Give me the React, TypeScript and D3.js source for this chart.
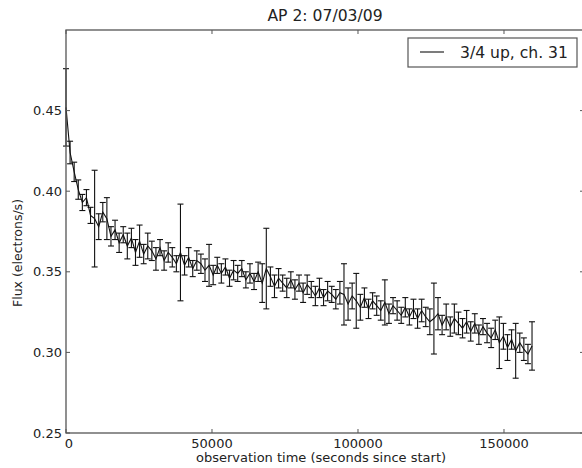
import React from "react";
import * as d3 from "d3";

const times = [
  0, 1400, 2800, 4200, 5600, 7000, 8400, 9800, 11200, 12600,
  14000, 15400, 16800, 18200, 19600, 21000, 22400, 23800, 25200, 26600,
  28000, 29400, 30800, 32200, 33600, 35000, 36400, 37800, 39200, 40600,
  42000, 43400, 44800, 46200, 47600, 49000, 50400, 51800, 53200, 54600,
  56000, 57400, 58800, 60200, 61600, 63000, 64400, 65800, 67200, 68600,
  70000, 71400, 72800, 74200, 75600, 77000, 78400, 79800, 81200, 82600,
  84000, 85400, 86800, 88200, 89600, 91000, 92400, 93800, 95200, 96600,
  98000, 99400, 100800, 102200, 103600, 105000, 106400, 107800, 109200, 110600,
  112000, 113400, 114800, 116200, 117600, 119000, 120400, 121800, 123200, 124600,
  126000, 127400, 128800, 130200, 131600, 133000, 134400, 135800, 137200, 138600,
  140000, 141400, 142800, 144200, 145600, 147000, 148400, 149800, 151200, 152600,
  154000, 155400, 156800, 158200, 159600,
];

const flux = [
  0.452, 0.424, 0.412, 0.401, 0.393, 0.396, 0.385, 0.383, 0.378, 0.387,
  0.383, 0.372, 0.376, 0.368, 0.373, 0.366, 0.371, 0.362, 0.369, 0.361,
  0.366, 0.363, 0.358, 0.365, 0.357, 0.362, 0.359, 0.355, 0.362, 0.354,
  0.359, 0.352, 0.357, 0.355, 0.351, 0.354, 0.348, 0.354, 0.349, 0.353,
  0.346, 0.351, 0.349, 0.352, 0.345, 0.349, 0.344, 0.35, 0.343, 0.352,
  0.347, 0.341, 0.346, 0.343, 0.34, 0.345, 0.339, 0.343, 0.337, 0.342,
  0.339, 0.335, 0.34, 0.334, 0.338, 0.336, 0.333, 0.337, 0.336, 0.33,
  0.335, 0.332, 0.328, 0.334, 0.327, 0.332, 0.329, 0.326, 0.331, 0.324,
  0.329, 0.326, 0.323, 0.328, 0.322, 0.327, 0.321, 0.326, 0.322, 0.319,
  0.321, 0.324, 0.317, 0.322, 0.316, 0.321, 0.318, 0.315, 0.319, 0.313,
  0.318, 0.311, 0.316, 0.312, 0.309, 0.314, 0.306, 0.31, 0.303, 0.308,
  0.301, 0.306, 0.302, 0.299, 0.304,
];

const fluxErr = [
  0.024, 0.007, 0.006, 0.006, 0.005, 0.005, 0.005, 0.03, 0.008, 0.006,
  0.013, 0.006, 0.006, 0.006, 0.005, 0.008, 0.006, 0.008, 0.01, 0.006,
  0.008, 0.006, 0.007, 0.005, 0.006, 0.006, 0.006, 0.005, 0.03, 0.006,
  0.006, 0.005, 0.006, 0.006, 0.007, 0.013, 0.006, 0.005, 0.006, 0.005,
  0.005, 0.006, 0.005, 0.005, 0.005, 0.006, 0.005, 0.006, 0.012, 0.025,
  0.006, 0.007, 0.006, 0.005, 0.006, 0.005, 0.006, 0.005, 0.006, 0.006,
  0.005, 0.006, 0.006, 0.005, 0.006, 0.005, 0.006, 0.007, 0.019, 0.01,
  0.008, 0.017, 0.008, 0.006, 0.006, 0.005, 0.006, 0.006, 0.014, 0.006,
  0.005, 0.006, 0.005, 0.006, 0.005, 0.006, 0.006, 0.007, 0.006, 0.008,
  0.022, 0.01, 0.006, 0.008, 0.006, 0.009, 0.007, 0.006, 0.007, 0.006,
  0.006, 0.006, 0.005, 0.006, 0.006, 0.006, 0.016, 0.008, 0.008, 0.006,
  0.017, 0.006, 0.007, 0.006, 0.015,
];

const xTicks = [0, 50000, 100000, 150000];
const yTicks = [0.25, 0.3, 0.35, 0.4, 0.45];
const titleText = "AP 2: 07/03/09";
const xLabel = "observation time (seconds since start)";
const yLabel = "Flux (electrons/s)";
const legendLabel = "3/4 up, ch. 31";

export default function App() {
  const W = 582;
  const H = 468;
  const left = 66;
  const right = 584;
  const top = 30;
  const bottom = 433;
  const x = d3.scaleLinear().domain([0, 177400]).range([left, right]);
  const y = d3.scaleLinear().domain([0.25, 0.5]).range([bottom, top]);
  const pts = times.map((t, i) => ({ t, v: flux[i], e: fluxErr[i] }));
  const line = d3
    .line<{ t: number; v: number }>()
    .x((d) => x(d.t))
    .y((d) => y(d.v));
  const font = "'DejaVu Sans', sans-serif";
  const txt = "#222";
  const cap = 3;
  return (
    <svg
      width={W}
      height={H}
      style={{ position: "absolute", left: 0, top: 0, background: "#fff" }}
      fontFamily={font}
    >
      <rect x={0} y={0} width={W} height={H} fill="#fff" />
      <g>
        {pts.map((d, i) => (
          <g key={i} stroke="#111" strokeWidth={1.1}>
            <line x1={x(d.t)} x2={x(d.t)} y1={y(d.v - d.e)} y2={y(d.v + d.e)} />
            <line x1={x(d.t) - cap} x2={x(d.t) + cap} y1={y(d.v - d.e)} y2={y(d.v - d.e)} />
            <line x1={x(d.t) - cap} x2={x(d.t) + cap} y1={y(d.v + d.e)} y2={y(d.v + d.e)} />
          </g>
        ))}
        <path d={line(pts) || ""} fill="none" stroke="#111" strokeWidth={1.1} />
      </g>
      <rect
        x={left}
        y={top}
        width={right - left}
        height={bottom - top}
        fill="none"
        stroke="#555"
        strokeWidth={1.3}
      />
      {xTicks.map((t) => (
        <g key={"x" + t}>
          <line x1={x(t)} x2={x(t)} y1={bottom} y2={bottom - 4} stroke="#555" />
          <line x1={x(t)} x2={x(t)} y1={top} y2={top + 4} stroke="#555" />
          <text
            x={x(t) + (t === 0 ? 3 : 0)}
            y={bottom + 15}
            textAnchor="middle"
            fontSize={13}
            fill={txt}
          >
            {t}
          </text>
        </g>
      ))}
      {yTicks.map((v) => (
        <g key={"y" + v}>
          <line x1={left} x2={left + 4} y1={y(v)} y2={y(v)} stroke="#555" />
          <line x1={right} x2={right - 4} y1={y(v)} y2={y(v)} stroke="#555" />
          <text
            x={left - 4}
            y={y(v) + 4.5}
            textAnchor="end"
            fontSize={13}
            fill={txt}
          >
            {v.toFixed(2)}
          </text>
        </g>
      ))}
      <text x={325} y={21} textAnchor="middle" fontSize={15.6} fill={txt}>
        {titleText}
      </text>
      <text x={321} y={462} textAnchor="middle" fontSize={13} fill={txt}>
        {xLabel}
      </text>
      <text
        transform={`translate(22,253) rotate(-90)`}
        textAnchor="middle"
        fontSize={12.5}
        fill={txt}
      >
        {yLabel}
      </text>
      <g>
        <rect x={408} y={38} width={169} height={29} fill="#fff" stroke="#555" strokeWidth={1.2} />
        <line x1={420} x2={444} y1={52} y2={52} stroke="#111" strokeWidth={1.1} />
        <text x={460} y={57.5} fontSize={15.6} fill={txt}>
          {legendLabel}
        </text>
      </g>
    </svg>
  );
}
